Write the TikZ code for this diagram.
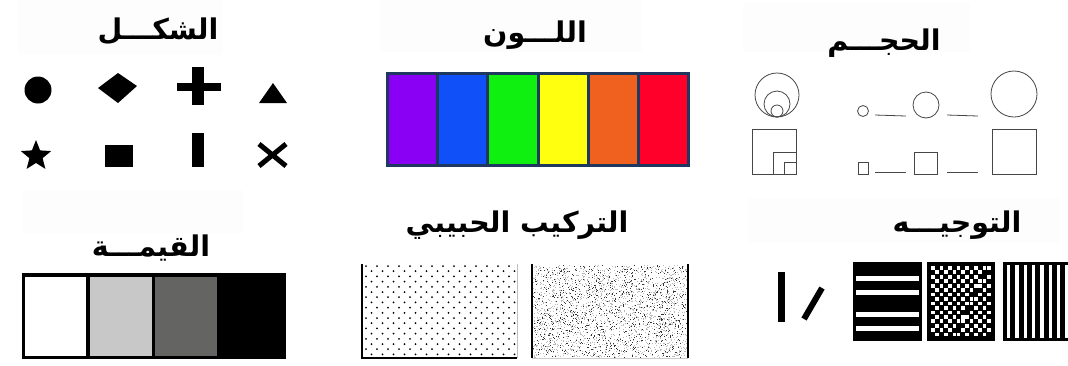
\documentclass[tikz,border=0pt]{standalone}
\usepackage{fontspec}
\usepackage{xcolor}
\newfontfamily\arabicfont[Script=Arabic]{DejaVu Sans}
\TeXXeTstate=1
\usepackage{tikz}
\usetikzlibrary{shapes.geometric}
\definecolor{titlebg}{RGB}{253, 253, 253}
\definecolor{barnavy}{RGB}{31, 56, 96}
\definecolor{huepurple}{RGB}{138, 0, 245}
\definecolor{hueblue}{RGB}{16, 80, 248}
\definecolor{huegreen}{RGB}{16, 240, 16}
\definecolor{hueyellow}{RGB}{255, 255, 16}
\definecolor{hueorange}{RGB}{240, 96, 30}
\definecolor{huered}{RGB}{255, 0, 42}
\definecolor{lightval}{RGB}{200, 200, 200}
\definecolor{darkval}{RGB}{100, 100, 98}
\definecolor{sizeline}{RGB}{70, 70, 70}

\begin{document}
\begin{tikzpicture}[x=1pt, y=-1pt,
  title/.style={font=\arabicfont\bfseries\fontsize{28.5}{32}\selectfont, inner sep=0pt},
  sizeline/.style={draw=sizeline, line width=0.8pt}]
  \useasboundingbox (0,0) rectangle (1068,365);
  \fill[white] (0,0) rectangle (1068,365);
  % faint title panels
  \fill[titlebg] (18,0) rectangle (223,55);
  \fill[titlebg] (380,0) rectangle (642,52);
  \fill[titlebg] (743,3) rectangle (970,52);
  \fill[titlebg] (22,190) rectangle (243,233);
  \fill[titlebg] (748,198) rectangle (1060,243);
  % titles
  \node[title] (tshape) at (158,31) {\beginR الشكـــل\endR};
  \node[title] (tcolour) at (535,35) {\beginR اللـــون\endR};
  \node[title] (tsize) at (884,43) {\beginR الحجـــم\endR};
  \node[title] (tvalue) at (151,248) {\beginR القيمـــة\endR};
  \node[title] (ttexture) at (517,225) {\beginR التركيب الحبيبي\endR};
  \node[title] (torient) at (957,225) {\beginR التوجيـــه\endR};
  % shape
  \fill (38,90) circle (13.5pt);
  \fill (98,88) -- (118,73) -- (137,86) -- (118,103) -- cycle;
  \fill (177,83) rectangle (221,91);
  \fill (192,67) rectangle (204,105);
  \fill (259,103) -- (273,83) -- (287,103) -- cycle;
  \node[star, star points=5, star point ratio=2.3, fill=black, minimum size=32pt, inner sep=0pt] (star) at (36,156) {};
  \fill (105,145) rectangle (133,167);
  \fill (192,133) rectangle (204,167);
  \draw[line width=5pt] (259,144) -- (286,166) (286,144) -- (259,166);
  % colour
  \fill[barnavy] (386,72) rectangle (690,167);
  \foreach \k/\hue in {0/huepurple, 1/hueblue, 2/huegreen, 3/hueyellow, 4/hueorange, 5/huered} {
    \fill[\hue] (389+50.2*\k,75) rectangle (436.2+50.2*\k,164);
  }
  % size
  \draw[sizeline] (777,95) circle (22pt);
  \draw[sizeline] (777,104) circle (13pt);
  \draw[sizeline] (777,111) circle (6pt);
  \draw[sizeline] (752,129) rectangle (796,174);
  \draw[sizeline] (773,152) rectangle (796,174);
  \draw[sizeline] (784,162) rectangle (796,174);
  \draw[sizeline] (863,111) circle (5.5pt);
  \draw[sizeline] (875,115) -- (906,116);
  \draw[sizeline] (926,105) circle (13pt);
  \draw[sizeline] (947,115) -- (978,116);
  \draw[sizeline] (1014,94) circle (23pt);
  \draw[sizeline] (858,162) rectangle (868,174);
  \draw[sizeline] (875,172) -- (906,172);
  \draw[sizeline] (914,152) rectangle (937,174);
  \draw[sizeline] (947,172) -- (978,172);
  \draw[sizeline] (992,129) rectangle (1036,174);
  % value
  \fill[black] (22,273) rectangle (286,359);
  \fill[white] (25,277) rectangle (86,356);
  \fill[lightval] (90,277) rectangle (152,356);
  \fill[darkval] (155,277) rectangle (217,356);
  % texture
  \foreach \row in {0,...,17} {
    \foreach \col in {0,...,13} {
      \fill ({366+11*\col+5.5*mod(\row,2)},{266+5.2*\row}) circle (1pt);
    }
  }
  \draw[line width=1.2pt] (362,264) -- (362,358) -- (517,358);
  \draw[gray!50, line width=0.5pt] (517,264) -- (517,358);
  \pgfmathsetseed{11}
  \foreach \k in {1,...,2000} {
    \fill[gray!55] ({533+154*rnd},{265+92*rnd}) rectangle +(1,1);
  }
  \foreach \k in {1,...,900} {
    \fill[black!80] ({533+154*rnd},{265+92*rnd}) rectangle +(0.9,0.9);
  }
  \draw[line width=1.2pt] (532,264) -- (532,358);
  \draw[line width=1.2pt] (688,264) -- (688,358);
  \draw[gray!40, line width=0.5pt] (532,358) -- (688,358);
  % orientation
  \fill (778,272) rectangle (785,322);
  \draw[line width=6pt] (822,288) -- (804,319);
  \fill (853,262) rectangle (922,341);
  \foreach \y in {276, 290, 312, 326} {
    \fill[white] (856,\y) rectangle (919,\y+5);
  }
  \fill (927,262) rectangle (995,341);
  \foreach \i in {0,...,13} {
    \foreach \j in {0,...,15} {
      \pgfmathtruncatemacro\w{mod(\i+\j+(\i>5+0.5*(15-\j)),2)}
      \ifnum\w=0
        \fill[white] (931+4.3*\i,266+4.45*\j) rectangle +(3.6,3.7);
      \fi
    }
  }
  \fill (1003,262) rectangle (1068,341);
  \foreach \k in {0,...,7} {
    \fill[white] (1007+8.3*\k,265) rectangle +(3.4,73);
  }
\end{tikzpicture}
\end{document}
